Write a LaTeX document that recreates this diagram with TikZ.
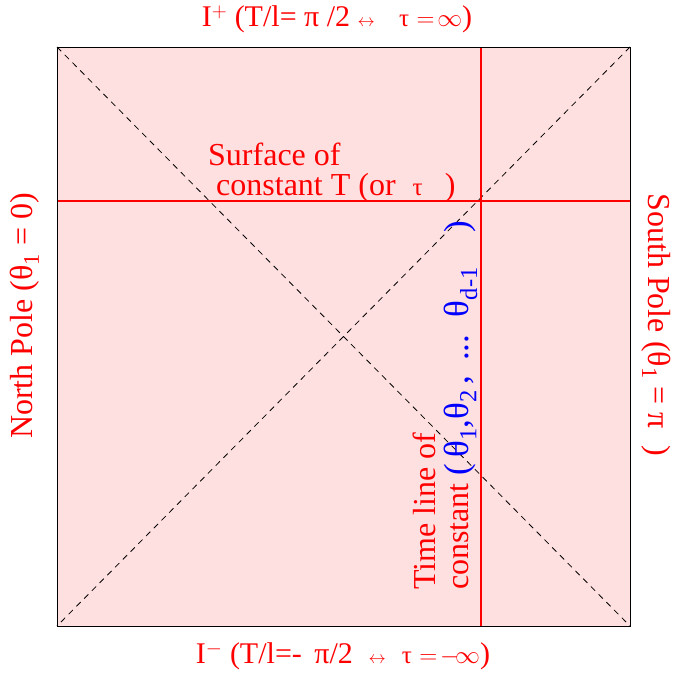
\documentclass[tikz,border=0pt]{standalone}
\usepackage{fontspec}
\setmainfont{Liberation Serif}
\usetikzlibrary{positioning}
\definecolor{pinkbg}{RGB}{255,224,224}
\definecolor{lnred}{RGB}{255,0,0}
\newcommand{\smallsym}[1]{{\fontsize{17}{17}\selectfont #1}}
\newcommand{\tausym}{{\fontsize{25}{25}\selectfont τ}}
\tikzset{
  lbl/.style={text=lnred, font=\fontsize{32}{33}\selectfont, inner sep=0pt},
  endlbl/.style={text=lnred, font=\fontsize{30}{32}\selectfont, inner sep=0pt},
  diag/.style={draw=black, line width=0.8pt, dash pattern=on 6pt off 5pt},
  redline/.style={color=lnred, line width=1.2pt},
}

\begin{document}
\begin{tikzpicture}[x=1pt,y=-1pt]
  \useasboundingbox (0,0) rectangle (673,675);
  % the square
  \coordinate (nw) at (57,47);
  \coordinate (ne) at (630,47);
  \coordinate (sw) at (57,626);
  \coordinate (se) at (630,626);
  \fill[pinkbg] (nw) rectangle (se);
  \draw[diag] (nw) -- (se);
  \draw[diag] (ne) -- (sw);
  % constant T and constant angle lines
  \coordinate (hl) at (57,201);
  \coordinate (hr) at (630,201);
  \coordinate (vt) at (481,47);
  \coordinate (vb) at (481,626);
  \draw[redline] (hl) -- (hr);
  \draw[redline] (vt) -- (vb);
  \draw[line width=1pt] (nw) rectangle (se);

  \node[endlbl] (iplus)  at (337,19)
    {I$^{+}$ (T/l= π /2 \smallsym{$\leftrightarrow$}\;\; \tausym\ $=\!\infty$)};
  \node[endlbl] (iminus) at (343,656)
    {I$^{-}$ (T/l=- \,π/2 \;\smallsym{$\leftrightarrow$}\; \tausym\ $=\!-\!\infty$)};
  \node[lbl, rotate=90]  (north) at (25,316) {North Pole (θ\textsubscript{1} = 0)};
  \node[lbl, rotate=-90] (south) at (656,325) {South Pole (θ\textsubscript{1} = π\; )};
  \node[lbl, align=left, anchor=north west] (surf) at (208,143)
    {Surface of\\[-3pt]\hspace{8pt}constant T (or \;\tausym\;\, )};
  \node[lbl, rotate=90, align=left, anchor=north west] (tline) at (413,590)
    {Time line of\\constant {\color{blue}\fontsize{35}{35}\selectfont(\,θ\textsubscript{1},θ\textsubscript{2}\,, \,...\, θ\textsubscript{d-1}\quad)}};
\end{tikzpicture}
\end{document}
